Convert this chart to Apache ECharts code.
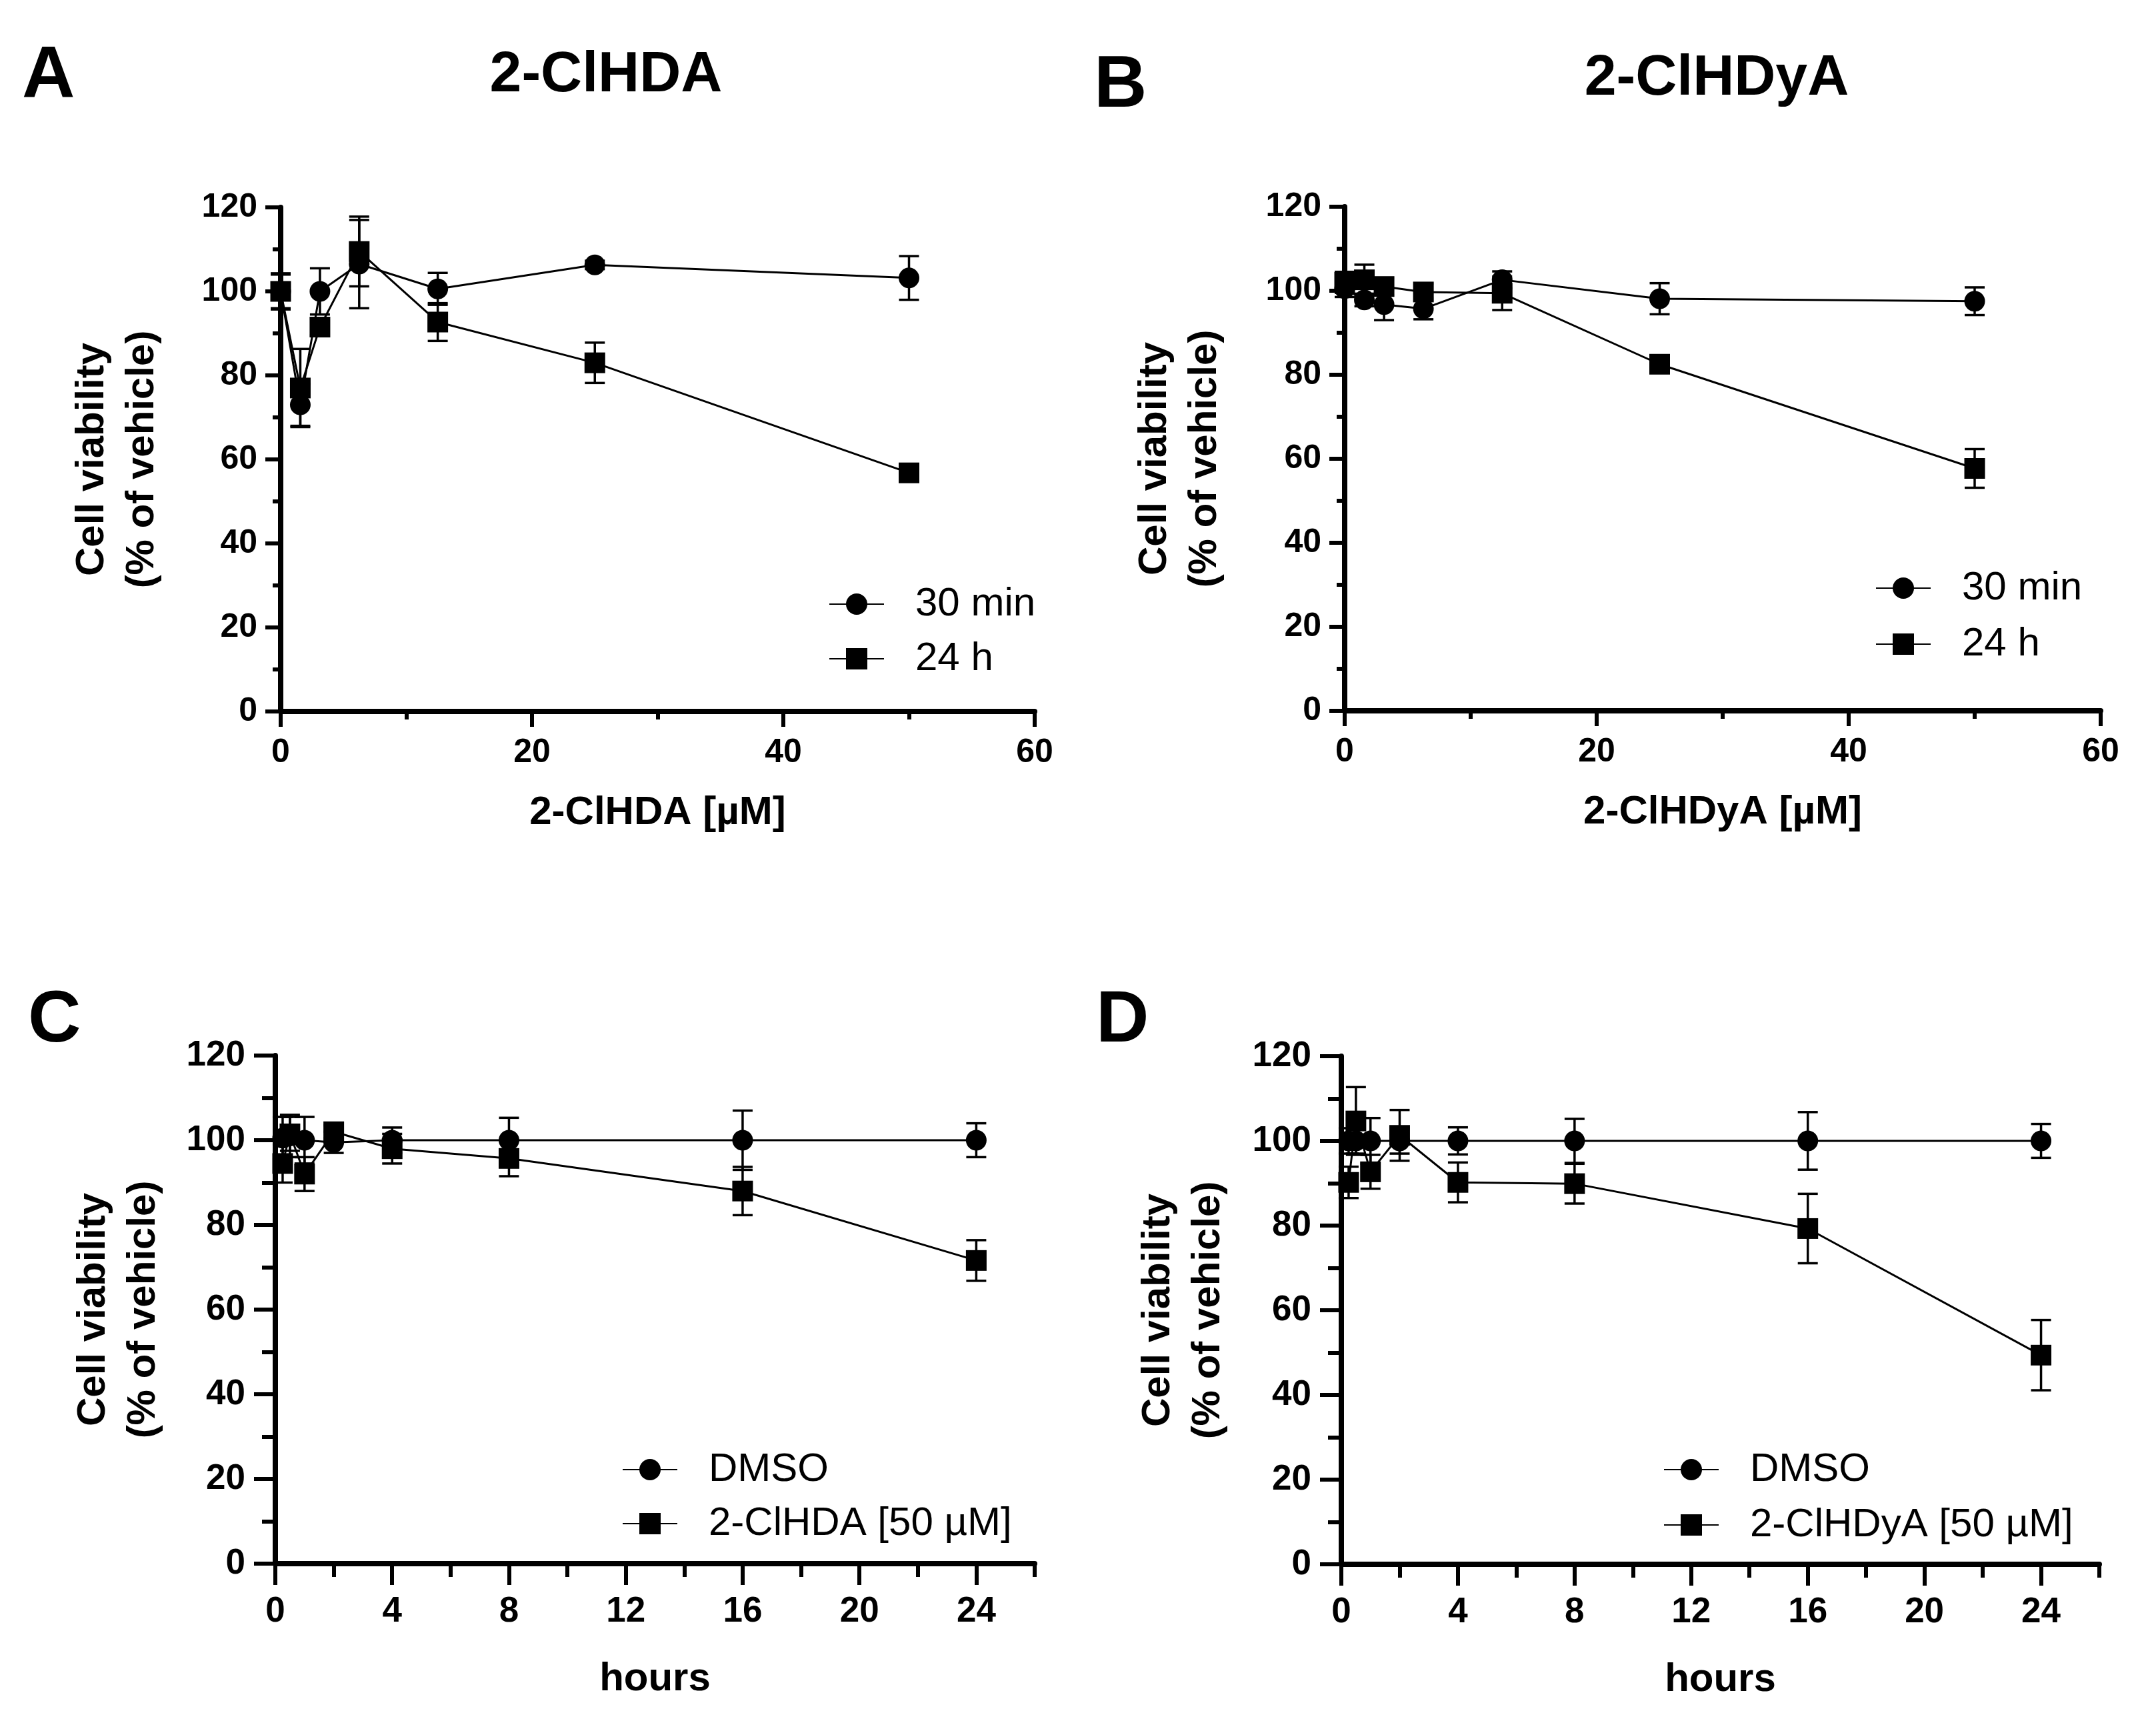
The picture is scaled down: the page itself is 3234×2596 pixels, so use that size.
<!DOCTYPE html>
<html><head><meta charset="utf-8">
<script src="https://cdn.jsdelivr.net/npm/echarts@6/dist/echarts.min.js"></script>
<style>html,body{margin:0;padding:0;background:#fff}#c{width:3234px;height:2596px}</style>
</head><body><div id="c"></div>
<script>
// ---- data ----
const concX = [0, 1.5625, 3.125, 6.25, 12.5, 25, 50];
const A_30min = [100, 73, 100, 106.5, 100.6, 106.3, 103.2];
const A_30min_err = [4, 5, 5.5, 10.5, 3.8, 1, 5.2];
const A_24h = [100, 77, 91.5, 109.5, 92.7, 83, 56.8];
const A_24h_err = [4.3, 9.3, 2, 8.3, 4.5, 4.8, 1];

const B_30min = [100.5, 97.8, 96.7, 95.7, 102.6, 98.1, 97.5];
const B_30min_err = [2, 1.5, 3.7, 2.5, 2, 3.7, 3.3];
const B_24h = [102, 102.6, 101, 99.7, 99.4, 82.5, 57.7];
const B_24h_err = [2.5, 3.6, 2, 2, 4, 1, 4.6];

const hoursX = [0.25, 0.5, 1, 2, 4, 8, 16, 24];
const C_dmso = [100.5, 101, 100, 99.5, 100, 100, 100, 100];
const C_dmso_err = [5, 5, 5.5, 2.5, 3, 5.3, 7, 4];
const C_hda = [94.5, 101.5, 92, 102, 98, 95.7, 88, 71.6];
const C_hda_err = [4.5, 4, 4, 1.5, 3.5, 4.2, 5.7, 4.8];

const D_dmso = [100, 100, 100, 100, 100, 100, 100, 100];
const D_dmso_err = [3, 3, 5.4, 3, 3.2, 5.2, 6.8, 4];
const D_hdya = [90.2, 104.7, 92.7, 101.3, 90.2, 89.9, 79.3, 49.4];
const D_hdya_err = [3.7, 8, 4, 6, 4.7, 4.7, 8.2, 8.3];

const yTicks = [0, 20, 40, 60, 80, 100, 120];
const concTicks = [0, 20, 40, 60];
const hourTicks = [0, 4, 8, 12, 16, 20, 24];
const hourMinor = [2, 6, 10, 14, 18, 22, 26];

// ---- style ----
const FF = '"Liberation Sans", Arial, Helvetica, sans-serif';
const BLACK = '#000';

const chart = echarts.init(document.getElementById('c'), null, {width: 3234, height: 2596, renderer: 'canvas'});

const grids = [
  {left: 421, top: 311, width: 1131, height: 756},
  {left: 2017, top: 310, width: 1134, height: 756},
  {left: 413, top: 1583, width: 1139, height: 762},
  {left: 2012, top: 1584, width: 1137, height: 762}
];

function yAx(g, big, gap) {
  return {
    type: 'value', gridIndex: g, min: 0, max: 120, interval: 20,
    axisLine: {show: true, onZero: false, lineStyle: {color: BLACK, width: 8}},
    axisTick: {show: true, length: big ? 32 : 23, lineStyle: {color: BLACK, width: 6}},
    minorTick: {show: true, splitNumber: 2, length: big ? 20 : 12, lineStyle: {color: BLACK, width: 6}},
    splitLine: {show: false}, minorSplitLine: {show: false},
    axisLabel: {fontSize: big ? 53 : 50, fontWeight: 'bold', color: BLACK, fontFamily: FF,
      margin: big ? 45 : 35, customValues: yTicks},
    name: 'Cell viability\n(% of vehicle)', nameLocation: 'middle', nameGap: gap, nameRotate: 90,
    nameTextStyle: {fontSize: 60, fontWeight: 'bold', lineHeight: 75, color: BLACK, fontFamily: FF}
  };
}
function xConc(g, name) {
  return {
    type: 'value', gridIndex: g, min: 0, max: 60, interval: 20,
    axisLine: {show: true, onZero: false, lineStyle: {color: BLACK, width: 8}},
    axisTick: {show: true, length: 23, lineStyle: {color: BLACK, width: 6}},
    minorTick: {show: true, splitNumber: 2, length: 12, lineStyle: {color: BLACK, width: 6}},
    splitLine: {show: false}, minorSplitLine: {show: false},
    axisLabel: {fontSize: 50, fontWeight: 'bold', color: BLACK, fontFamily: FF, margin: 37,
      customValues: concTicks},
    name: name, nameLocation: 'middle', nameGap: 122,
    nameTextStyle: {fontSize: 60, fontWeight: 'bold', color: BLACK, fontFamily: FF}
  };
}
function xHours(g) {
  return {
    type: 'value', gridIndex: g, min: 0, max: 26, interval: 4,
    axisLine: {show: true, onZero: false, lineStyle: {color: BLACK, width: 8}},
    axisTick: {show: true, length: 32, lineStyle: {color: BLACK, width: 6}, customValues: hourTicks},
    splitLine: {show: false},
    axisLabel: {fontSize: 53, fontWeight: 'bold', color: BLACK, fontFamily: FF, margin: 46,
      customValues: hourTicks},
    name: 'hours', nameLocation: 'middle', nameGap: 143,
    nameTextStyle: {fontSize: 60, fontWeight: 'bold', color: BLACK, fontFamily: FF}
  };
}
function xHoursMinor(g) {
  return {
    type: 'value', gridIndex: g, min: 0, max: 26, interval: 2, position: 'bottom', offset: 0,
    axisLine: {show: false},
    axisTick: {show: true, length: 20, lineStyle: {color: BLACK, width: 6}, customValues: hourMinor},
    splitLine: {show: false},
    axisLabel: {show: false}
  };
}

function renderErr(params, api) {
  const x = api.value(0), y = api.value(1), e = api.value(2);
  const hi = api.coord([x, y + e]);
  const lo = api.coord([x, y - e]);
  const w = 15;
  const st = {stroke: BLACK, lineWidth: 3.5};
  return {type: 'group', children: [
    {type: 'line', shape: {x1: hi[0], y1: hi[1], x2: lo[0], y2: lo[1]}, style: st},
    {type: 'line', shape: {x1: hi[0] - w, y1: hi[1], x2: hi[0] + w, y2: hi[1]}, style: st},
    {type: 'line', shape: {x1: lo[0] - w, y1: lo[1], x2: lo[0] + w, y2: lo[1]}, style: st}
  ]};
}
function errSeries(id, xi, yi, xs, ys, es) {
  return {
    type: 'custom', id: id, xAxisIndex: xi, yAxisIndex: yi, clip: false, z: 2,
    renderItem: renderErr, encode: {x: 0, y: 1}, silent: true,
    data: xs.map((x, i) => [x, ys[i], es[i]])
  };
}
function lineSeries(name, xi, yi, xs, ys, sym, z) {
  return {
    type: 'line', name: name, xAxisIndex: xi, yAxisIndex: yi, clip: false, z: z,
    symbol: sym, symbolSize: 31, showAllSymbol: true,
    lineStyle: {color: BLACK, width: 3},
    itemStyle: {color: BLACK},
    data: xs.map((x, i) => [x, ys[i]])
  };
}

function legend(names, left, top, gap) {
  return {
    data: names, orient: 'vertical', left: left, top: top, padding: 0,
    itemWidth: 82, itemHeight: 40, itemGap: gap, selectedMode: false,
    textStyle: {fontSize: 60, color: BLACK, fontFamily: FF, padding: [0, 0, 0, 42]}
  };
}

function txt(x, y, s, size, align) {
  return {type: 'text', x: x, y: y, silent: true,
    style: {text: s, fontSize: size, fontWeight: 'bold', fontFamily: FF, fill: BLACK,
      textAlign: align, textVerticalAlign: 'top'}};
}

const option = {
  backgroundColor: '#fff',
  animation: false,
  grid: grids,
  xAxis: [xConc(0, '2-ClHDA [µM]'), xConc(1, '2-ClHDyA [µM]'), xHours(2), xHours(3), xHoursMinor(2), xHoursMinor(3)],
  yAxis: [yAx(0, false, 170), yAx(1, false, 172), yAx(2, true, 160), yAx(3, true, 162)],
  legend: [
    legend(['30 min', '24 h'], 1243, 876, 22),
    legend(['30 min', '24 h'], 2813, 852, 24),
    legend(['DMSO', '2-ClHDA [50 µM]'], 933, 2174, 21),
    legend(['DMSO', '2-ClHDyA [50 µM]'], 2495, 2174, 23)
  ],
  graphic: [
    txt(33, 60, 'A', 110, 'left'),
    txt(1641, 75, 'B', 110, 'left'),
    txt(42, 1477, 'C', 110, 'left'),
    txt(1644, 1477, 'D', 110, 'left'),
    txt(909, 70, '2-ClHDA', 86, 'center'),
    txt(2575, 75, '2-ClHDyA', 86, 'center')
  ],
  series: [
    errSeries('eA1', 0, 0, concX, A_30min, A_30min_err),
    errSeries('eA2', 0, 0, concX, A_24h, A_24h_err),
    lineSeries('30 min', 0, 0, concX, A_30min, 'circle', 3),
    lineSeries('24 h', 0, 0, concX, A_24h, 'rect', 4),

    errSeries('eB1', 1, 1, concX, B_30min, B_30min_err),
    errSeries('eB2', 1, 1, concX, B_24h, B_24h_err),
    lineSeries('30 min', 1, 1, concX, B_30min, 'circle', 3),
    lineSeries('24 h', 1, 1, concX, B_24h, 'rect', 4),

    errSeries('eC1', 2, 2, hoursX, C_dmso, C_dmso_err),
    errSeries('eC2', 2, 2, hoursX, C_hda, C_hda_err),
    lineSeries('DMSO', 2, 2, hoursX, C_dmso, 'circle', 3),
    lineSeries('2-ClHDA [50 µM]', 2, 2, hoursX, C_hda, 'rect', 4),

    errSeries('eD1', 3, 3, hoursX, D_dmso, D_dmso_err),
    errSeries('eD2', 3, 3, hoursX, D_hdya, D_hdya_err),
    lineSeries('DMSO', 3, 3, hoursX, D_dmso, 'circle', 3),
    lineSeries('2-ClHDyA [50 µM]', 3, 3, hoursX, D_hdya, 'rect', 4)
  ]
};
chart.setOption(option);
</script>
</body></html>
